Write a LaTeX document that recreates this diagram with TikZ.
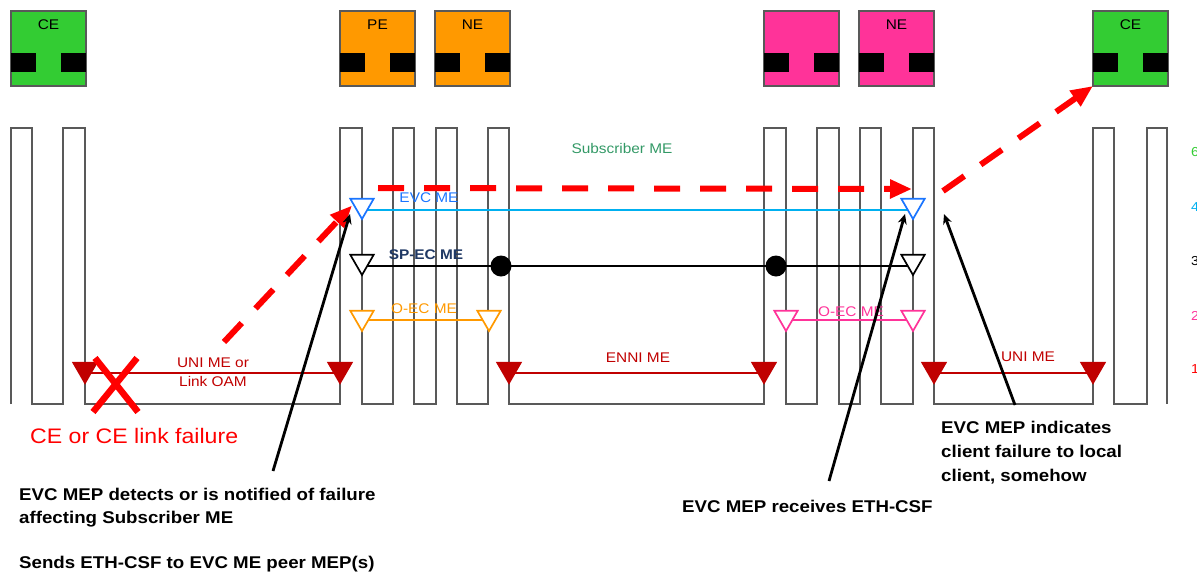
\documentclass[tikz,border=0pt]{standalone}
\usepackage{fontspec}
\setmainfont{Liberation Sans}[FakeStretch=1.1]
\usetikzlibrary{shapes.geometric,arrows.meta,backgrounds}
\definecolor{edgegray}{HTML}{595959}
\definecolor{cegreen}{HTML}{33CC33}
\definecolor{neorange}{HTML}{FF9900}
\definecolor{nepink}{HTML}{FF3399}
\definecolor{evcblue}{HTML}{1A75FF}
\definecolor{evcLineC}{HTML}{00B0F0}
\definecolor{spnavy}{HTML}{1F3864}
\definecolor{uniRed}{HTML}{C00000}
\definecolor{subgreen}{HTML}{339966}
\definecolor{alarm}{HTML}{FF0000}
\begin{document}
\begin{tikzpicture}[x=1pt,y=-1pt,
  dev/.style={draw=edgegray, line width=1.2pt, minimum width=75pt, minimum height=75pt, inner sep=0pt, outer sep=0pt, anchor=north west},
  devlabel/.style={font=\fontsize{14}{16}\selectfont, anchor=north, inner sep=0pt},
  port/.style={draw=edgegray, line width=1.3pt, line join=miter},
  mep/.style={regular polygon, regular polygon sides=3, shape border rotate=180, minimum size=27pt, inner sep=0pt, line width=1.7pt, fill=white},
  mepred/.style={mep, draw=uniRed, fill=uniRed},
  melabel/.style={font=\fontsize{14}{19}\selectfont, inner sep=0pt},
  blackdot/.style={circle, fill=black, minimum size=21pt, inner sep=0pt},
  csf/.style={draw=alarm, line width=6pt, dash pattern=on 26pt off 20pt, -{Triangle[length=22pt,width=18pt]}},
  callout/.style={draw=black, line width=2.8pt, -{Stealth[length=10pt,width=9pt]}},
  ann/.style={font=\bfseries\fontsize{17}{20}\selectfont, inner sep=0pt, anchor=base west},
  lvlnum/.style={font=\fontsize{13}{15}\selectfont, inner sep=0pt, anchor=west}
]
\useasboundingbox (0,0) rectangle (1197,571);
\clip (0,0) rectangle (1197,571);

% devices
\node[dev, fill=cegreen] (ceL) at (11,11) {};
\node[dev, fill=neorange] (pe) at (340,11) {};
\node[dev, fill=neorange] (neA) at (435,11) {};
\node[dev, fill=nepink] (pxB) at (764,11) {};
\node[dev, fill=nepink] (neB) at (859,11) {};
\node[dev, fill=cegreen] (ceR) at (1093,11) {};
\foreach \bx in {11,340,435,764,859,1093} {
  \fill (\bx,53) rectangle ++(25,19);
  \fill (\bx+50,53) rectangle ++(25,19);
}
\node[devlabel] (ceLlab) at ([yshift=-9pt]ceL.north) {CE};
\node[devlabel] (pelab) at ([yshift=-9pt]pe.north) {PE};
\node[devlabel] (neAlab) at ([yshift=-9pt]neA.north) {NE};
\node[devlabel] (neBlab) at ([yshift=-9pt]neB.north) {NE};
\node[devlabel] (ceRlab) at ([yshift=-9pt]ceR.north) {CE};

% port waveform
\begin{scope}[on background layer]
\draw[port] (11,404) -- (11,128) -- (32,128) -- (32,404) -- (63,404) -- (63,128) -- (85,128) -- (85,404)
 -- (340,404) -- (340,128) -- (362,128) -- (362,404) -- (393,404) -- (393,128) -- (414,128) -- (414,404)
 -- (436,404) -- (436,128) -- (457,128) -- (457,404) -- (488,404) -- (488,128) -- (509,128) -- (509,404)
 -- (764,404) -- (764,128) -- (786,128) -- (786,404) -- (817,404) -- (817,128) -- (839,128) -- (839,404)
 -- (860,404) -- (860,128) -- (881,128) -- (881,404) -- (913,404) -- (913,128) -- (934,128) -- (934,404)
 -- (1093,404) -- (1093,128) -- (1114,128) -- (1114,404) -- (1147,404) -- (1147,128) -- (1167,128) -- (1167,404);
\end{scope}

% MEPs
\node[mep, draw=evcblue] (evcL) at (362,205.5) {};
\node[mep, draw=evcblue] (evcR) at (913,205.5) {};
\node[mep, draw=black] (spL) at (362,261.5) {};
\node[mep, draw=black] (spR) at (913,261.5) {};
\node[mep, draw=neorange] (oecA1) at (362,317.5) {};
\node[mep, draw=neorange] (oecA2) at (489,317.5) {};
\node[mep, draw=nepink] (oecB1) at (786,317.5) {};
\node[mep, draw=nepink] (oecB2) at (913,317.5) {};
\node[mepred] (uniA1) at (85,369.5) {};
\node[mepred] (uniA2) at (340,369.5) {};
\node[mepred] (enni1) at (509,369.5) {};
\node[mepred] (enni2) at (764,369.5) {};
\node[mepred] (uniB1) at (934,369.5) {};
\node[mepred] (uniB2) at (1093,369.5) {};

\begin{scope}[on background layer]
\draw[evcLineC, line width=2pt] ([yshift=-4.5pt]evcL.center) -- ([yshift=-4.5pt]evcR.center);
\draw[black, line width=2.3pt] ([yshift=-4.5pt]spL.center) -- ([yshift=-4.5pt]spR.center);
\draw[neorange, line width=2pt] ([yshift=-2.5pt]oecA1.center) -- ([yshift=-2.5pt]oecA2.center);
\draw[nepink, line width=2pt] ([yshift=-2.5pt]oecB1.center) -- ([yshift=-2.5pt]oecB2.center);
\draw[uniRed, line width=2pt] ([yshift=-3.5pt]uniA1.center) -- ([yshift=-3.5pt]uniA2.center);
\draw[uniRed, line width=2pt] ([yshift=-3.5pt]enni1.center) -- ([yshift=-3.5pt]enni2.center);
\draw[uniRed, line width=2pt] ([yshift=-3.5pt]uniB1.center) -- ([yshift=-3.5pt]uniB2.center);
\end{scope}
\node[blackdot] (dotA) at (501,266) {};
\node[blackdot] (dotB) at (776,266) {};

% ME labels
\node[melabel, text=subgreen] (subl) at (622,148) {Subscriber ME};
\node[melabel, text=evcblue] (evcl) at (429,198) {EVC ME};
\node[melabel, text=spnavy, font=\bfseries\fontsize{14}{19}\selectfont] (spl) at (426,255) {SP-EC ME};
\node[melabel, text=neorange] (oecAl) at (424,309) {O-EC ME};
\node[melabel, text=nepink] (oecBl) at (851,312) {O-EC ME};
\node[melabel, text=uniRed, align=center] (uniAl) at (213,372.5) {UNI ME or\\Link OAM};
\node[melabel, text=uniRed] (ennil) at (638,358) {ENNI ME};
\node[melabel, text=uniRed] (uniBl) at (1028,357) {UNI ME};

% level numbers
\node[lvlnum, text=cegreen] (n6) at (1191,152) {6};
\node[lvlnum, text=evcLineC] (n4) at (1191,207) {4};
\node[lvlnum, text=black] (n3) at (1191,261) {3};
\node[lvlnum, text=nepink] (n2) at (1191,316) {2};
\node[lvlnum, text=alarm] (n1) at (1191,369) {1};

% failure
\draw[alarm, line width=6.5pt] (95,358) -- (138,412) (137,358) -- (93,412);
\node[font=\fontsize{21}{24}\selectfont, text=alarm, anchor=west, inner sep=0pt] (fail) at (30,436) {CE or CE link failure};

% CSF path
\coordinate (csfA) at (224,342);
\coordinate (csfB) at (378,188);
\coordinate (csfC) at (912,189);
\coordinate (csfD) at (943,191);
\draw[csf] (csfA) -- ([xshift=-10pt]evcL.center);
\draw[csf] (csfB) -- (csfC);
\draw[csf] (csfD) -- (ceR.south west);

% annotations
\node[ann] (t1a) at (19,500) {EVC MEP detects or is notified of failure};
\node[ann] (t1b) at (19,523) {affecting Subscriber ME};
\node[ann] (t1c) at (19,568) {Sends ETH-CSF to EVC ME peer MEP(s)};
\node[ann] (t2) at (682,512) {EVC MEP receives ETH-CSF};
\node[ann] (t3a) at (941,433) {EVC MEP indicates};
\node[ann] (t3b) at (941,457) {client failure to local};
\node[ann] (t3c) at (941,481) {client, somehow};

\coordinate (c1s) at (273,471);
\coordinate (c1e) at (350,214);
\coordinate (c2s) at (829,481);
\coordinate (c2e) at (905,214);
\coordinate (c3s) at (1015,405);
\coordinate (c3e) at (944,214);
\draw[callout] (c1s) -- (c1e);
\draw[callout] (c2s) -- (c2e);
\draw[callout] (c3s) -- (c3e);
\end{tikzpicture}
\end{document}
